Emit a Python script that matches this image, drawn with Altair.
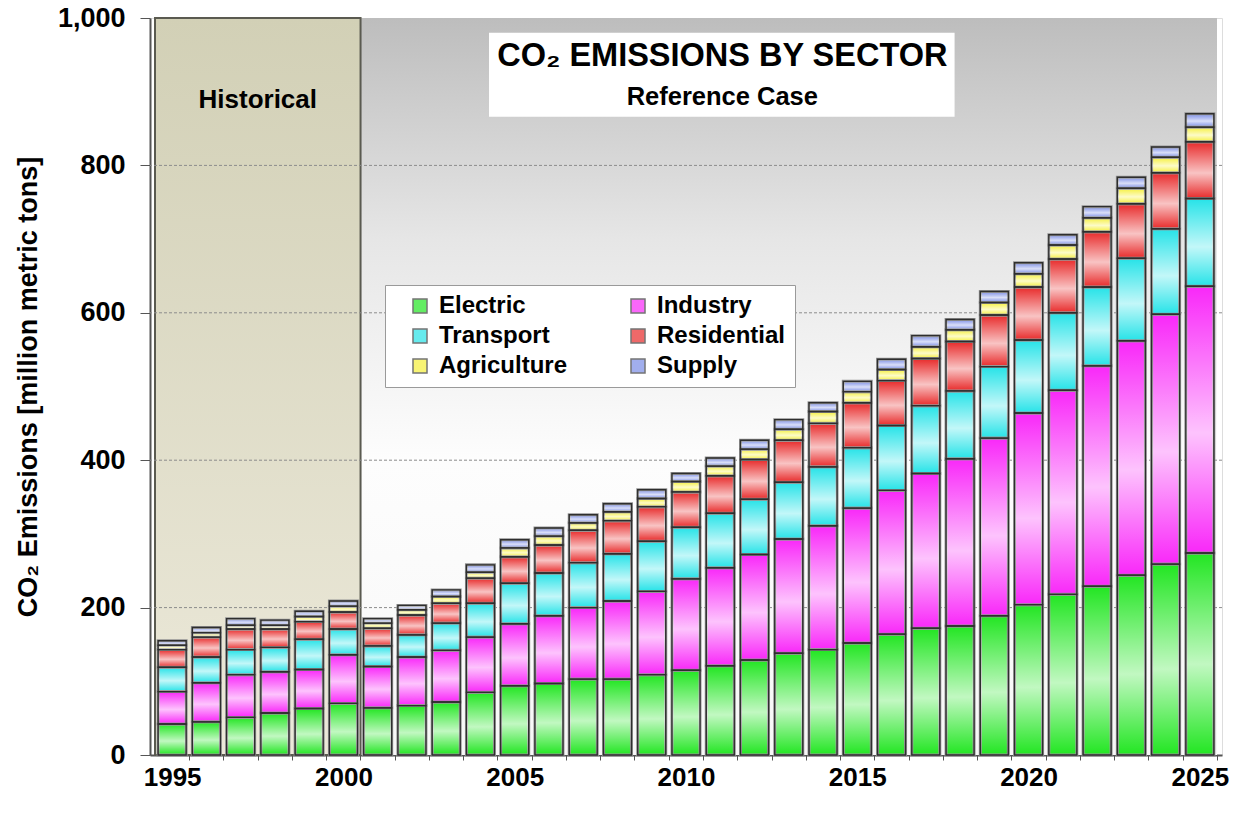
import altair as alt
import pandas as pd

# ---------------- data ----------------
YEARS = list(range(1995, 2026))
SECTORS = ["Electric", "Industry", "Transport", "Residential", "Agriculture", "Supply"]

ELECTRIC = [42, 45, 51, 57, 63, 70, 64, 67, 72, 85, 94, 97, 103, 103, 109, 115,
            121, 129, 138, 143, 152, 164, 172, 175, 189, 204, 218, 229, 244, 259, 274]
INDUSTRY = [44, 53, 58, 56, 53, 66, 56, 66, 70, 75, 84, 92, 97, 106, 113, 124,
            133, 143, 155, 168, 183, 195, 210, 227, 241, 260, 277, 299, 318, 339, 362]
TRANSPORT = [33, 35, 34, 33, 41, 35, 28, 30, 37, 46, 55, 58, 61, 64, 68, 70,
             74, 75, 77, 80, 82, 88, 92, 92, 97, 99, 105, 107, 112, 116, 119]
RESIDENTIAL = [24, 27, 28, 25, 24, 23, 24, 27, 27, 34, 36, 38, 44, 45, 47, 48,
               51, 54, 57, 59, 61, 61, 64, 67, 70, 72, 73, 75, 74, 76, 77]
AGRICULTURE = [6, 6, 5, 5, 7, 8, 7, 7, 9, 8, 12, 12, 10, 12, 11, 14,
               13, 14, 15, 16, 15, 15, 16, 16, 17, 18, 19, 19, 21, 21, 20]
SUPPLY = [6, 7, 9, 7, 7, 7, 6, 6, 9, 10, 11, 11, 11, 11, 12, 11,
          11, 12, 13, 12, 14, 14, 15, 14, 15, 15, 14, 15, 15, 14, 18]

SERIES = [ELECTRIC, INDUSTRY, TRANSPORT, RESIDENTIAL, AGRICULTURE, SUPPLY]
COLORS = ["#22e622", "#f928f9", "#26e3e8", "#e82a2a", "#f6f03a", "#7a8ce6"]
# legend is filled column by column: Electric/Transport/Agriculture, then Industry/Residential/Supply
LEGEND_ORDER = ["Electric", "Transport", "Agriculture", "Industry", "Residential", "Supply"]

Y_TICKS = [0, 200, 400, 600, 800, 1000]
GRID_VALUES = [200, 400, 600, 800]

TITLE_1 = "CO\u2082 EMISSIONS BY SECTOR"
TITLE_2 = "Reference Case"
HIST_LABEL = "Historical"
Y_TITLE = "CO\u2082 Emissions [million metric tons]"

# annotation placement (data coordinates)
X_RANGE = [1994.5, 2025.5]
Y_RANGE = [0, 1000]
HIST_RANGE = [1994.5, 2000.5]
TITLE_BOX_X = [2004.25, 2017.84]
TITLE_BOX_Y = [866, 980]
TITLE_X = 2011.06
TITLE_1_Y = 948
TITLE_2_Y = 893
HIST_X = 1997.5
HIST_Y = 889

FONT = "Liberation Sans, Arial, sans-serif"

rows = []
for i, (name, vals) in enumerate(zip(SECTORS, SERIES)):
    for yr, v in zip(YEARS, vals):
        rows.append({"year": yr, "sector": name, "value": v, "idx": i})
df = pd.DataFrame(rows)

color_of = dict(zip(SECTORS, COLORS))
legend_colors = [color_of[s] for s in LEGEND_ORDER]

x_scale = alt.Scale(domain=X_RANGE, nice=False, zero=False)
y_scale = alt.Scale(domain=Y_RANGE, nice=False)

x_axis = alt.Axis(
    values=YEARS, format="d",
    labelExpr="datum.value % 5 === 0 ? datum.label : ''",
    title=None, grid=False, tickOffset=17, labelOffset=-17,
    tickSize=5, labelPadding=4, labelFontSize=26, labelFontWeight="bold",
    labelColor="black", labelFont=FONT, labelFlush=False, labelOverlap=False,
    domainColor="#555555", domainWidth=2, tickColor="#555555",
)
y_axis = alt.Axis(
    values=Y_TICKS, format=",d", title=Y_TITLE, grid=False,
    tickSize=10, labelPadding=15, labelFontSize=27, labelFontWeight="bold",
    labelColor="black", labelFont=FONT, labelFlush=False,
    titleFont=FONT, titleFontSize=27, titleFontWeight="bold", titleColor="black",
    titlePadding=15, domainColor="#555555", domainWidth=2, tickColor="#555555",
)

def X(field):
    return alt.X(field, scale=x_scale, axis=x_axis)

def Y(field, **kw):
    return alt.Y(field, scale=y_scale, axis=y_axis, **kw)

bg_grad = alt.Gradient(
    gradient="linear", x1=0, x2=0, y1=0, y2=1,
    stops=[alt.GradientStop(color="#bdbdbd", offset=0),
           alt.GradientStop(color="#e6e6e6", offset=0.3),
           alt.GradientStop(color="#fdfdfd", offset=0.6),
           alt.GradientStop(color="#f7f7f7", offset=1)],
)
hist_grad = alt.Gradient(
    gradient="linear", x1=0, x2=0, y1=0, y2=1,
    stops=[alt.GradientStop(color="#d2d0b6", offset=0),
           alt.GradientStop(color="#ece9da", offset=1)],
)
shine = alt.Gradient(
    gradient="linear", x1=0, x2=0, y1=0, y2=1,
    stops=[alt.GradientStop(color="rgba(255,255,255,0)", offset=0),
           alt.GradientStop(color="rgba(255,255,255,0.72)", offset=0.55),
           alt.GradientStop(color="rgba(255,255,255,0)", offset=1)],
)

bg = alt.Chart(pd.DataFrame({"x": [X_RANGE[0]], "x2": [X_RANGE[1]],
                             "y": [Y_RANGE[0]], "y2": [Y_RANGE[1]]})).mark_rect(
    fill=bg_grad).encode(x=X("x:Q"), x2="x2:Q", y=Y("y:Q"), y2="y2:Q")

hist = alt.Chart(pd.DataFrame({"x": [HIST_RANGE[0]], "x2": [HIST_RANGE[1]],
                               "y": [Y_RANGE[0]], "y2": [Y_RANGE[1]]})).mark_rect(
    fill=hist_grad, stroke="#5a5a50", strokeWidth=2).encode(
    x=X("x:Q"), x2="x2:Q", y=Y("y:Q"), y2="y2:Q")

grid = alt.Chart(pd.DataFrame({"v": GRID_VALUES})).mark_rule(
    stroke="#8c8c8c", strokeDash=[3, 2], strokeWidth=1).encode(y=Y("v:Q"))

legend = alt.Legend(
    title=None, orient="none", legendX=235, legendY=267, columns=2,
    fillColor="white", strokeColor="#9a9a9a", padding=9, symbolOffset=14,
    labelFont=FONT, labelFontSize=24, labelFontWeight="bold", labelColor="black",
    labelOffset=7, symbolType="square", symbolSize=196,
    symbolStrokeColor="#3a3a3a", symbolStrokeWidth=1.5, symbolOpacity=0.7,
    columnPadding=44, rowPadding=6, labelLimit=300,
    labelExpr="datum.label == 'Residential' ? datum.label + '\u00a0\u00a0' : datum.label",
)

bars = alt.Chart(df).mark_bar(size=28, stroke="#939393", strokeWidth=3).encode(
    x=X("year:Q"),
    y=Y("value:Q", stack="zero"),
    color=alt.Color("sector:N", scale=alt.Scale(domain=LEGEND_ORDER, range=legend_colors),
                    legend=legend),
    order=alt.Order("idx:Q", sort="ascending"),
)

overlay = alt.Chart(df).mark_bar(size=28, fill=shine, stroke="#2e2e2e",
                                 strokeWidth=1.4).encode(
    x=X("year:Q"),
    y=Y("value:Q", stack="zero"),
    detail="sector:N",
    order=alt.Order("idx:Q", sort="ascending"),
)

title_box = alt.Chart(pd.DataFrame({"x": [TITLE_BOX_X[0]], "x2": [TITLE_BOX_X[1]],
                                    "y": [TITLE_BOX_Y[0]], "y2": [TITLE_BOX_Y[1]]})).mark_rect(
    fill="white").encode(x=X("x:Q"), x2="x2:Q", y=Y("y:Q"), y2="y2:Q")

texts = pd.DataFrame({
    "x": [TITLE_X, TITLE_X, HIST_X],
    "y": [TITLE_1_Y, TITLE_2_Y, HIST_Y],
    "t": [TITLE_1, TITLE_2, HIST_LABEL],
    "s": [32.5, 25.5, 26],
})
text_layer = alt.Chart(texts).mark_text(
    font=FONT, fontWeight="bold", color="black", align="center", baseline="middle"
).encode(x=X("x:Q"), y=Y("y:Q"), text="t:N",
         size=alt.Size("s:Q", scale=None, legend=None))

chart = alt.layer(bg, hist, grid, bars, overlay, title_box, text_layer).properties(
    width=1072, height=737,
    padding={"left": 150, "top": 18, "right": 26, "bottom": 65},
    autosize=alt.AutoSizeParams(type="none"),
).configure_view(stroke="#8a8a8a", strokeWidth=1).configure(background="white")

chart.save("out.html", embed_options={"renderer": "svg", "actions": False})
